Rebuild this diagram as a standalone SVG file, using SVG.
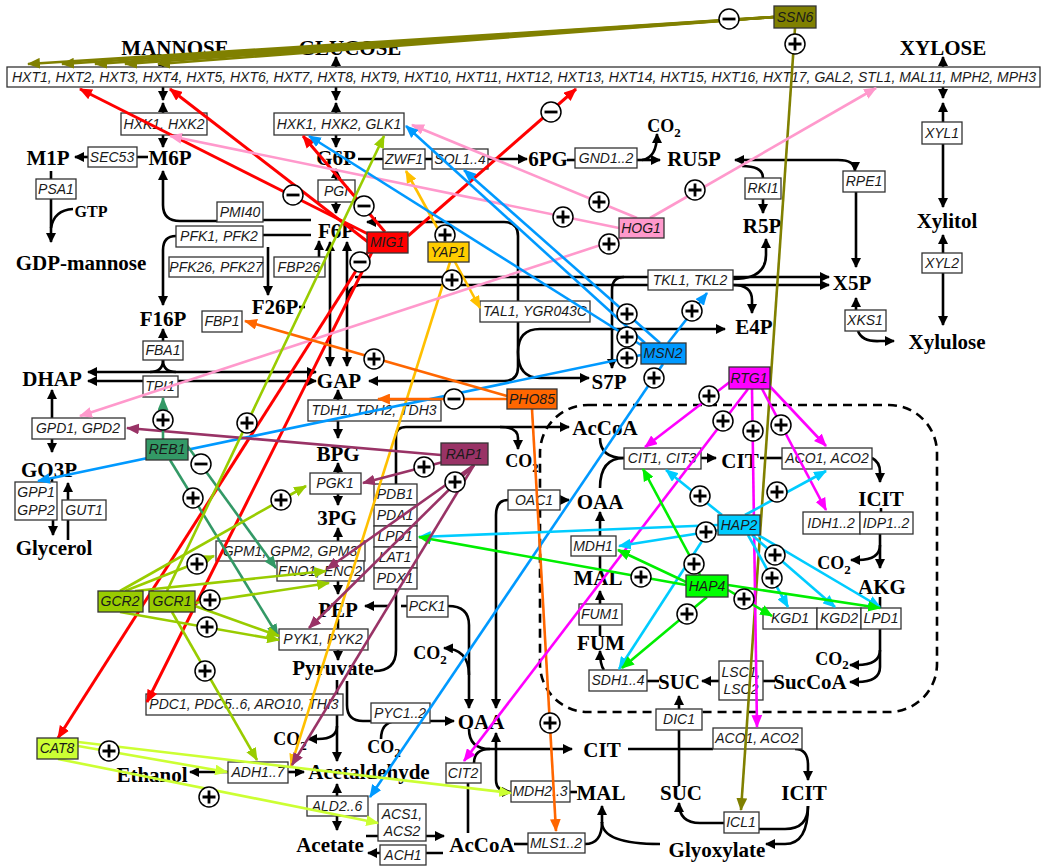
<svg xmlns="http://www.w3.org/2000/svg" width="1045" height="866" viewBox="0 0 1045 866">
<defs>
<style>
.m{font-family:"Liberation Serif","Times New Roman",serif;font-weight:bold;font-size:21px;fill:#000;text-anchor:middle}
.e{font-family:"Liberation Sans",Arial,sans-serif;font-style:italic;font-size:14px;fill:#1a1a1a;text-anchor:middle}
.b{fill:#fff;stroke:#333;stroke-width:1.3}
.k{fill:none;stroke:#000;stroke-width:2.6}
.ka{fill:none;stroke:#000;stroke-width:2.6;marker-end:url(#ak)}
.kb{fill:none;stroke:#000;stroke-width:2.6;marker-start:url(#ak);marker-end:url(#ak)}
.dash{fill:none;stroke:#000;stroke-width:2.6;stroke-dasharray:9 6}
#reg path{fill:none;stroke-width:2.6}
.ol{stroke:#808000;marker-end:url(#a-ol)}
.rd{stroke:#f00;marker-end:url(#a-rd)}
.yl{stroke:#FFC000;marker-end:url(#a-yl)}
.pk{stroke:#FF99CC;marker-end:url(#a-pk)}
.bl{stroke:#0099FF;marker-end:url(#a-bl)}
.or{stroke:#FF6600;marker-end:url(#a-or)}
.mg{stroke:#FF00FF;marker-end:url(#a-mg)}
.cy{stroke:#00CCFF;marker-end:url(#a-cy)}
.gr{stroke:#00EE00;marker-end:url(#a-gr)}
.mr{stroke:#993366;marker-end:url(#a-mr)}
.sg{stroke:#339966;marker-end:url(#a-sg)}
.yg{stroke:#99CC00;marker-end:url(#a-yg)}
.lg{stroke:#CCFF33;marker-end:url(#a-lg)}
.rb{stroke:#333;stroke-width:1.3}
</style>
<marker id="ak" viewBox="0 0 10 10" refX="9" refY="5" markerWidth="10" markerHeight="10" markerUnits="userSpaceOnUse" orient="auto-start-reverse"><path d="M0,0L10,5L0,10z" fill="#000"/></marker>
<marker id="a-ol" viewBox="0 0 12 10" refX="11" refY="5" markerWidth="13" markerHeight="11" markerUnits="userSpaceOnUse" orient="auto"><path d="M0,0L12,5L0,10z" fill="#808000"/></marker>
<marker id="a-rd" viewBox="0 0 12 10" refX="11" refY="5" markerWidth="13" markerHeight="11" markerUnits="userSpaceOnUse" orient="auto"><path d="M0,0L12,5L0,10z" fill="#f00"/></marker>
<marker id="a-yl" viewBox="0 0 12 10" refX="11" refY="5" markerWidth="13" markerHeight="11" markerUnits="userSpaceOnUse" orient="auto"><path d="M0,0L12,5L0,10z" fill="#FFC000"/></marker>
<marker id="a-pk" viewBox="0 0 12 10" refX="11" refY="5" markerWidth="13" markerHeight="11" markerUnits="userSpaceOnUse" orient="auto"><path d="M0,0L12,5L0,10z" fill="#FF99CC"/></marker>
<marker id="a-bl" viewBox="0 0 12 10" refX="11" refY="5" markerWidth="13" markerHeight="11" markerUnits="userSpaceOnUse" orient="auto"><path d="M0,0L12,5L0,10z" fill="#0099FF"/></marker>
<marker id="a-or" viewBox="0 0 12 10" refX="11" refY="5" markerWidth="13" markerHeight="11" markerUnits="userSpaceOnUse" orient="auto"><path d="M0,0L12,5L0,10z" fill="#FF6600"/></marker>
<marker id="a-mg" viewBox="0 0 12 10" refX="11" refY="5" markerWidth="13" markerHeight="11" markerUnits="userSpaceOnUse" orient="auto"><path d="M0,0L12,5L0,10z" fill="#FF00FF"/></marker>
<marker id="a-cy" viewBox="0 0 12 10" refX="11" refY="5" markerWidth="13" markerHeight="11" markerUnits="userSpaceOnUse" orient="auto"><path d="M0,0L12,5L0,10z" fill="#00CCFF"/></marker>
<marker id="a-gr" viewBox="0 0 12 10" refX="11" refY="5" markerWidth="13" markerHeight="11" markerUnits="userSpaceOnUse" orient="auto"><path d="M0,0L12,5L0,10z" fill="#00EE00"/></marker>
<marker id="a-mr" viewBox="0 0 12 10" refX="11" refY="5" markerWidth="13" markerHeight="11" markerUnits="userSpaceOnUse" orient="auto"><path d="M0,0L12,5L0,10z" fill="#993366"/></marker>
<marker id="a-sg" viewBox="0 0 12 10" refX="11" refY="5" markerWidth="13" markerHeight="11" markerUnits="userSpaceOnUse" orient="auto"><path d="M0,0L12,5L0,10z" fill="#339966"/></marker>
<marker id="a-yg" viewBox="0 0 12 10" refX="11" refY="5" markerWidth="13" markerHeight="11" markerUnits="userSpaceOnUse" orient="auto"><path d="M0,0L12,5L0,10z" fill="#99CC00"/></marker>
<marker id="a-lg" viewBox="0 0 12 10" refX="11" refY="5" markerWidth="13" markerHeight="11" markerUnits="userSpaceOnUse" orient="auto"><path d="M0,0L12,5L0,10z" fill="#CCFF33"/></marker>
<g id="plus"><circle r="10" fill="#fff" stroke="#000" stroke-width="1.5"/><path d="M-6.5,0H6.5M0,-6.5V6.5" stroke="#000" stroke-width="2.8"/></g>
<g id="minus"><circle r="10" fill="#fff" stroke="#000" stroke-width="1.5"/><path d="M-6.5,0H6.5" stroke="#000" stroke-width="2.8"/></g>
</defs>
<rect width="1045" height="866" fill="#fff"/>

<!-- reaction connectors -->
<g id="reactions">
<rect x="540" y="405" width="397" height="307" rx="48" class="dash"/>
<path class="ka" d="M163,67V57"/><path class="ka" d="M163,87V100"/><path class="ka" d="M163,113V103"/><path class="ka" d="M163,135V147"/>
<path class="ka" d="M336,67V57"/><path class="ka" d="M336,87V100"/><path class="ka" d="M336,113V103"/><path class="ka" d="M336,135V147"/>
<path class="ka" d="M943,67V57"/><path class="ka" d="M943,87V98"/><path class="ka" d="M943,122V103"/>
<path class="ka" d="M943,144V207"/><path class="ka" d="M943,253V235"/><path class="ka" d="M943,273V325"/>
<path class="k" d="M148,157H137"/><path class="ka" d="M88,157H75"/>
<path class="k" d="M51,171V179"/><path class="ka" d="M51,199V242"/><path class="k" d="M73,209Q54,210 51,228"/>
<path class="ka" d="M217,221H180Q163,221 163,205V171"/>
<path class="k" d="M263,220H311"/><path class="k" d="M263,235H311"/>
<path class="ka" d="M176,236Q163,236 163,250V305"/>
<path class="ka" d="M268,247V295"/>
<path class="ka" d="M319,257V241"/><path class="k" d="M299,307H305"/>
<path class="ka" d="M336,180V169"/><path class="ka" d="M336,202V213"/>
<path class="ka" d="M358,159H527"/>
<path class="k" d="M567,160H575"/><path class="ka" d="M637,160H660"/><path class="ka" d="M642,160Q657,158 657,134"/>
<path class="kb" d="M735,160H838Q855,160 855,171"/><path class="ka" d="M856,192V267"/>
<path class="k" d="M742,166Q763,166 763,178"/><path class="ka" d="M763,199V213"/>
<path class="ka" d="M733,279Q766,279 766,255V239"/><path class="ka" d="M733,285Q752,285 752,300V313"/>
<path class="ka" d="M856,310V298"/><path class="ka" d="M858,331Q862,342 880,341H894"/>
<path class="kb" d="M330,242V366"/><path class="kb" d="M347,242V366"/>
<path class="ka" d="M355,277H829"/><path class="ka" d="M347,302Q347,285 362,285H829"/>
<path class="ka" d="M624,277Q612,277 612,290V368"/>
<path class="kb" d="M369,381H504Q518,381 518,367V236Q518,222 504,222H367"/>
<path class="ka" d="M518,352Q518,329 540,329H725"/><path class="ka" d="M518,352Q518,378 540,378H589"/>
<path class="ka" d="M163,341V329"/>
<path class="k" d="M163,360Q163,372 150,372"/><path class="k" d="M163,360Q163,372 176,372"/>
<path class="kb" d="M88,372H316"/><path class="kb" d="M88,381H316"/>
<path class="ka" d="M52,418V390"/><path class="ka" d="M52,439V452"/>
<path class="k" d="M52,478V482"/><path class="ka" d="M53,520V535"/>
<path class="k" d="M68,540V520"/><path class="ka" d="M68,500V483"/>
<path class="ka" d="M338,400V390"/><path class="ka" d="M338,421V438"/>
<path class="ka" d="M338,473V463"/><path class="ka" d="M338,494V505"/>
<path class="ka" d="M338,541V528"/><path class="ka" d="M338,581V594"/>
<path class="k" d="M338,619V629"/><path class="ka" d="M338,650V660"/>
<path class="k" d="M337,680V694"/><path class="ka" d="M337,715V761"/><path class="ka" d="M337,726Q337,739 318,739H308"/>
<path class="ka" d="M337,796V784"/><path class="ka" d="M337,816V830"/>
<path class="ka" d="M228,772H190"/><path class="ka" d="M288,772H304"/>
<path class="ka" d="M366,836H444"/><path class="ka" d="M443,853H368"/>
<path class="k" d="M514,844H528"/>
<path class="k" d="M585,844Q602,844 602,822"/><path class="k" d="M660,844Q602,844 602,822"/><path class="ka" d="M602,823V806"/>
<path class="ka" d="M389,606H365"/><path class="k" d="M407,606H401"/>
<path class="ka" d="M448,606Q469,606 469,625V708"/><path class="ka" d="M469,675Q469,649 444,648"/>
<path class="ka" d="M374,671Q396,671 396,650V436Q396,427 406,427H569"/><path class="ka" d="M500,427Q518,427 518,438V449"/>
<path class="ka" d="M347,681V705Q347,721 363,721H454"/><path class="k" d="M381,739Q381,723 395,721"/>
<path class="ka" d="M508,500Q496,500 496,515V708"/><path class="ka" d="M560,500H569"/>
<path class="ka" d="M469,729Q469,749 490,749H572"/><path class="k" d="M474,763Q474,749 490,749"/>
<path class="kb" d="M496,733V780Q496,792 511,792"/><path class="k" d="M570,792H577"/>
<path class="k" d="M468,783V833"/>
<path class="k" d="M628,749H713"/>
<path class="k" d="M679,786V730"/><path class="ka" d="M679,709V696"/>
<path class="ka" d="M795,749Q808,749 808,765V780"/>
<path class="k" d="M808,806Q808,829 785,829H759"/><path class="ka" d="M808,806Q808,844 785,844H766"/>
<path class="ka" d="M724,823H700Q679,823 679,803"/>
<path class="k" d="M600,438Q600,458 624,458"/><path class="k" d="M600,488Q600,458 624,458"/>
<path class="ka" d="M701,458H716"/><path class="k" d="M760,458H782"/>
<path class="ka" d="M872,458Q880,462 880,472V482"/>
<path class="k" d="M881,508V512"/>
<path class="ka" d="M880,534V568"/><path class="ka" d="M880,545Q880,560 858,560H851"/>
<path class="k" d="M880,597V608"/>
<path class="ka" d="M880,629V650Q880,665 857,665H850"/><path class="ka" d="M880,650V667Q880,682 857,682H850"/>
<path class="k" d="M775,681H763"/><path class="ka" d="M719,681H702"/>
<path class="k" d="M659,681H647"/>
<path class="ka" d="M604,670Q600,665 600,651"/>
<path class="k" d="M600,636V625"/><path class="ka" d="M600,604V591"/>
<path class="k" d="M600,569V556"/><path class="ka" d="M600,536V512"/>
</g>

<!-- metabolites -->
<g id="metabolites">
<g id="m-mannose"><text class="m" x="175" y="55">MANNOSE</text></g>
<g id="m-glucose"><text class="m" x="350" y="55">GLUCOSE</text></g>
<g id="m-xylose"><text class="m" x="943" y="55">XYLOSE</text></g>
<g id="m-m1p"><text class="m" x="48" y="165">M1P</text></g>
<g id="m-m6p"><text class="m" x="170" y="165">M6P</text></g>
<g id="m-g6p"><text class="m" x="336" y="165">G6P</text></g>
<g id="m-6pg"><text class="m" x="548" y="166">6PG</text></g>
<g id="m-ru5p"><text class="m" x="694" y="166">RU5P</text></g>
<g id="m-r5p"><text class="m" x="762" y="233">R5P</text></g>
<g id="m-f6p"><text class="m" x="336" y="238">F6P</text></g>
<g id="m-f26p"><text class="m" x="275" y="314">F26P</text></g>
<g id="m-f16p"><text class="m" x="163" y="326">F16P</text></g>
<g id="m-dhap"><text class="m" x="52" y="386">DHAP</text></g>
<g id="m-gap"><text class="m" x="339" y="388">GAP</text></g>
<g id="m-x5p"><text class="m" x="852" y="290">X5P</text></g>
<g id="m-xylitol"><text class="m" x="947" y="228">Xylitol</text></g>
<g id="m-e4p"><text class="m" x="754" y="334">E4P</text></g>
<g id="m-xylulose"><text class="m" x="947" y="349">Xylulose</text></g>
<g id="m-s7p"><text class="m" x="609" y="389">S7P</text></g>
<g id="m-go3p"><text class="m" x="49" y="477">GO3P</text></g>
<g id="m-glycerol"><text class="m" x="54" y="555">Glycerol</text></g>
<g id="m-gdpman"><text class="m" x="81" y="270">GDP-mannose</text></g>
<g id="m-gtp"><text class="m" x="91" y="217" style="font-size:16px">GTP</text></g>
<g id="m-bpg"><text class="m" x="338" y="461">BPG</text></g>
<g id="m-3pg"><text class="m" x="337" y="525">3PG</text></g>
<g id="m-pep"><text class="m" x="338" y="617">PEP</text></g>
<g id="m-pyr"><text class="m" x="333" y="675">Pyruvate</text></g>
<g id="m-acald"><text class="m" x="369" y="779">Acetaldehyde</text></g>
<g id="m-etoh"><text class="m" x="152" y="782">Ethanol</text></g>
<g id="m-acetate"><text class="m" x="330" y="852">Acetate</text></g>
<g id="m-accoa-c"><text class="m" x="482" y="852">AcCoA</text></g>
<g id="m-oaa-c"><text class="m" x="481" y="729">OAA</text></g>
<g id="m-cit-c"><text class="m" x="602" y="757">CIT</text></g>
<g id="m-mal-c"><text class="m" x="601" y="800">MAL</text></g>
<g id="m-suc-c"><text class="m" x="681" y="800">SUC</text></g>
<g id="m-icit-c"><text class="m" x="804" y="800">ICIT</text></g>
<g id="m-glyox"><text class="m" x="717" y="857">Glyoxylate</text></g>
<g id="m-accoa-m"><text class="m" x="605" y="435">AcCoA</text></g>
<g id="m-cit-m"><text class="m" x="740" y="468">CIT</text></g>
<g id="m-oaa-m"><text class="m" x="600" y="509">OAA</text></g>
<g id="m-icit-m"><text class="m" x="881" y="506">ICIT</text></g>
<g id="m-akg"><text class="m" x="882" y="594">AKG</text></g>
<g id="m-mal-m"><text class="m" x="598" y="585">MAL</text></g>
<g id="m-fum"><text class="m" x="601" y="650">FUM</text></g>
<g id="m-suc-m"><text class="m" x="679" y="689">SUC</text></g>
<g id="m-succoa"><text class="m" x="810" y="689">SucCoA</text></g>
<g id="m-co2-1"><text class="m" x="664" y="132" style="font-size:18px">CO<tspan dy="5" style="font-size:13px">2</tspan></text></g>
<g id="m-co2-2"><text class="m" x="522" y="467" style="font-size:18px">CO<tspan dy="5" style="font-size:13px">2</tspan></text></g>
<g id="m-co2-3"><text class="m" x="430" y="659" style="font-size:18px">CO<tspan dy="5" style="font-size:13px">2</tspan></text></g>
<g id="m-co2-4"><text class="m" x="290" y="745" style="font-size:18px">CO<tspan dy="5" style="font-size:13px">2</tspan></text></g>
<g id="m-co2-5"><text class="m" x="384" y="753" style="font-size:18px">CO<tspan dy="4" style="font-size:13px">2</tspan></text></g>
<g id="m-co2-6"><text class="m" x="834" y="569" style="font-size:18px">CO<tspan dy="5" style="font-size:13px">2</tspan></text></g>
<g id="m-co2-7"><text class="m" x="832" y="665" style="font-size:18px">CO<tspan dy="4" style="font-size:13px">2</tspan></text></g>
</g>

<!-- enzymes -->
<g id="enzymes">
<g id="e-hxt"><rect class="b" x="7" y="67" width="1033" height="20"/><text class="e" x="12" y="82" style="text-anchor:start" textLength="1024">HXT1, HXT2, HXT3, HXT4, HXT5, HXT6, HXT7, HXT8, HXT9, HXT10, HXT11, HXT12, HXT13, HXT14, HXT15, HXT16, HXT17, GAL2, STL1, MAL11, MPH2, MPH3</text></g>
<g id="e-hxk12"><rect class="b" x="121" y="113" width="86" height="22"/><text class="e" x="164" y="129">HXK1, HXK2</text></g>
<g id="e-hxkglk"><rect class="b" x="274" y="113" width="130" height="22"/><text class="e" x="339" y="129">HXK1, HXK2, GLK1</text></g>
<g id="e-sec53"><rect class="b" x="88" y="147" width="49" height="20"/><text class="e" x="112" y="162">SEC53</text></g>
<g id="e-psa1"><rect class="b" x="36" y="179" width="40" height="20"/><text class="e" x="56" y="194">PSA1</text></g>
<g id="e-pmi40"><rect class="b" x="217" y="202" width="46" height="20"/><text class="e" x="240" y="217">PMI40</text></g>
<g id="e-pfk12"><rect class="b" x="176" y="226" width="87" height="21"/><text class="e" x="219" y="241">PFK1, PFK2</text></g>
<g id="e-pfk2627"><rect class="b" x="169" y="257" width="94" height="20"/><text class="e" x="216" y="272">PFK26, PFK27</text></g>
<g id="e-fbp26"><rect class="b" x="274" y="257" width="51" height="20"/><text class="e" x="299" y="272">FBP26</text></g>
<g id="e-pgi"><rect class="b" x="318" y="180" width="37" height="22"/><text class="e" x="336" y="196">PGI</text></g>
<g id="e-zwf1"><rect class="b" x="383" y="149" width="42" height="20"/><text class="e" x="404" y="164">ZWF1</text></g>
<g id="e-sol"><rect class="b" x="432" y="149" width="56" height="20"/><text class="e" x="460" y="164">SOL1..4</text></g>
<g id="e-gnd"><rect class="b" x="575" y="148" width="62" height="20"/><text class="e" x="606" y="163">GND1..2</text></g>
<g id="e-rki1"><rect class="b" x="745" y="178" width="36" height="21"/><text class="e" x="763" y="193">RKI1</text></g>
<g id="e-rpe1"><rect class="b" x="843" y="171" width="42" height="21"/><text class="e" x="864" y="186">RPE1</text></g>
<g id="e-xyl1"><rect class="b" x="922" y="122" width="40" height="22"/><text class="e" x="942" y="138">XYL1</text></g>
<g id="e-xyl2"><rect class="b" x="922" y="253" width="40" height="20"/><text class="e" x="942" y="268">XYL2</text></g>
<g id="e-tkl"><rect class="b" x="648" y="270" width="85" height="20"/><text class="e" x="690" y="285">TKL1, TKL2</text></g>
<g id="e-xks1"><rect class="b" x="845" y="310" width="41" height="21"/><text class="e" x="865" y="325">XKS1</text></g>
<g id="e-tal"><rect class="b" x="480" y="301" width="110" height="21"/><text class="e" x="535" y="316">TAL1, YGR043C</text></g>
<g id="e-fbp1"><rect class="b" x="202" y="311" width="40" height="21"/><text class="e" x="222" y="326">FBP1</text></g>
<g id="e-fba1"><rect class="b" x="143" y="341" width="40" height="19"/><text class="e" x="163" y="355">FBA1</text></g>
<g id="e-tpi1"><rect class="b" x="143" y="376" width="35" height="21"/><text class="e" x="160" y="391">TPI1</text></g>
<g id="e-gpd"><rect class="b" x="32" y="418" width="93" height="21"/><text class="e" x="78" y="433">GPD1, GPD2</text></g>
<g id="e-gpp"><rect class="b" x="15" y="482" width="42" height="38"/><text class="e" x="36" y="497">GPP1</text><text class="e" x="36" y="515">GPP2</text></g>
<g id="e-gut1"><rect class="b" x="62" y="500" width="44" height="20"/><text class="e" x="84" y="515">GUT1</text></g>
<g id="e-tdh"><rect class="b" x="308" y="400" width="133" height="21"/><text class="e" x="374" y="415">TDH1, TDH2, TDH3</text></g>
<g id="e-pgk1"><rect class="b" x="310" y="473" width="51" height="21"/><text class="e" x="335" y="488">PGK1</text></g>
<g id="e-gpm"><rect class="b" x="216" y="541" width="149" height="20"/><text class="e" x="290" y="556">GPM1, GPM2, GPM3</text></g>
<g id="e-eno"><rect class="b" x="277" y="561" width="87" height="20"/><text class="e" x="320" y="576">ENO1, ENO2</text></g>
<g id="e-pdh">
<rect class="b" x="374" y="484" width="43" height="21"/><text class="e" x="395" y="499">PDB1</text>
<rect class="b" x="374" y="505" width="43" height="21"/><text class="e" x="395" y="520">PDA1</text>
<rect class="b" x="374" y="526" width="43" height="21"/><text class="e" x="395" y="541">LPD1</text>
<rect class="b" x="374" y="547" width="43" height="21"/><text class="e" x="395" y="562">LAT1</text>
<rect class="b" x="374" y="568" width="43" height="21"/><text class="e" x="395" y="583">PDX1</text>
</g>
<g id="e-pck1"><rect class="b" x="407" y="596" width="41" height="21"/><text class="e" x="427" y="611">PCK1</text></g>
<g id="e-pyk"><rect class="b" x="279" y="629" width="89" height="21"/><text class="e" x="323" y="644">PYK1, PYK2</text></g>
<g id="e-pdc"><rect class="b" x="146" y="694" width="197" height="21"/><text class="e" x="244" y="709">PDC1, PDC5..6, ARO10, THI3</text></g>
<g id="e-pyc"><rect class="b" x="371" y="703" width="59" height="20"/><text class="e" x="400" y="718">PYC1..2</text></g>
<g id="e-adh"><rect class="b" x="228" y="762" width="60" height="21"/><text class="e" x="258" y="777">ADH1..7</text></g>
<g id="e-ald"><rect class="b" x="307" y="796" width="61" height="20"/><text class="e" x="337" y="811">ALD2..6</text></g>
<g id="e-acs"><rect class="b" x="378" y="804" width="48" height="37"/><text class="e" x="402" y="819">ACS1,</text><text class="e" x="402" y="836">ACS2</text></g>
<g id="e-ach1"><rect class="b" x="380" y="845" width="46" height="20"/><text class="e" x="403" y="860">ACH1</text></g>
<g id="e-cit2"><rect class="b" x="446" y="763" width="35" height="20"/><text class="e" x="463" y="778">CIT2</text></g>
<g id="e-mdh23"><rect class="b" x="511" y="781" width="59" height="21"/><text class="e" x="540" y="796">MDH2..3</text></g>
<g id="e-mls"><rect class="b" x="528" y="833" width="57" height="20"/><text class="e" x="556" y="848">MLS1..2</text></g>
<g id="e-icl1"><rect class="b" x="724" y="812" width="35" height="21"/><text class="e" x="741" y="827">ICL1</text></g>
<g id="e-aco-c"><rect class="b" x="713" y="728" width="89" height="21"/><text class="e" x="757" y="743">ACO1, ACO2</text></g>
<g id="e-dic1"><rect class="b" x="656" y="709" width="46" height="21"/><text class="e" x="679" y="724">DIC1</text></g>
<g id="e-sdh"><rect class="b" x="589" y="670" width="58" height="21"/><text class="e" x="618" y="685">SDH1..4</text></g>
<g id="e-fum1"><rect class="b" x="579" y="604" width="43" height="21"/><text class="e" x="600" y="619">FUM1</text></g>
<g id="e-lsc"><rect class="b" x="719" y="661" width="44" height="39"/><text class="e" x="741" y="677">LSC1,</text><text class="e" x="741" y="694">LSC2</text></g>
<g id="e-kgd1"><rect class="b" x="763" y="608" width="54" height="21"/><text class="e" x="790" y="623">KGD1</text></g>
<g id="e-kgd2"><rect class="b" x="817" y="608" width="44" height="21"/><text class="e" x="839" y="623">KGD2</text></g>
<g id="e-lpd1m"><rect class="b" x="861" y="608" width="40" height="21"/><text class="e" x="881" y="623">LPD1</text></g>
<g id="e-mdh1"><rect class="b" x="571" y="536" width="45" height="20"/><text class="e" x="593" y="551">MDH1</text></g>
<g id="e-oac1"><rect class="b" x="508" y="490" width="52" height="20"/><text class="e" x="534" y="505">OAC1</text></g>
<g id="e-cit13"><rect class="b" x="624" y="448" width="77" height="21"/><text class="e" x="662" y="463">CIT1, CIT3</text></g>
<g id="e-aco-m"><rect class="b" x="782" y="448" width="90" height="21"/><text class="e" x="827" y="463">ACO1, ACO2</text></g>
<g id="e-idh"><rect class="b" x="803" y="512" width="57" height="22"/><text class="e" x="831" y="528">IDH1..2</text></g>
<g id="e-idp"><rect class="b" x="860" y="512" width="53" height="22"/><text class="e" x="886" y="528">IDP1..2</text></g>
</g>

<!-- regulation connectors -->
<g id="reg">
<path class="ol" d="M774,17L28,64"/><path class="ol" d="M774,17L62,64"/><path class="ol" d="M774,17L95,64"/><path class="ol" d="M774,17L125,64"/><path class="ol" d="M774,17L158,64"/>
<path class="ol" d="M795,28L741,810"/>
<path class="rd" style="stroke-width:3" d="M368,234L80,89"/>
<path class="rd" style="stroke-width:3" d="M368,242L170,89"/>
<path class="rd" style="stroke-width:3" d="M385,232L303,136"/>
<path class="rd" style="stroke-width:3" d="M408,236L576,89"/>
<path class="rd" style="stroke-width:3" d="M368,252L58,738"/>
<path class="rd" style="stroke-width:3" d="M372,252L147,702"/>
<path class="yl" d="M445,242L406,171"/>
<path class="yl" d="M455,262L480,308"/>
<path class="yl" d="M450,262L291,766"/>
<path class="pk" d="M619,228L170,136"/>
<path class="pk" d="M637,218L412,125"/>
<path class="pk" d="M622,238L80,416"/>
<path class="pk" d="M650,218L876,88"/>
<path class="bl" d="M641,345L309,136"/>
<path class="bl" d="M645,343L406,126"/>
<path class="bl" d="M660,343L464,170"/>
<path class="bl" d="M641,355L38,481"/>
<path class="bl" d="M668,343L707,293"/>
<path class="bl" d="M663,364L370,797"/>
<path class="or" d="M507,396L245,321"/>
<path class="or" d="M507,399L378,399"/>
<path class="or" d="M532,409L556,831"/>
<path class="mg" d="M735,378L645,447"/>
<path class="mg" d="M748,389L464,761"/>
<path class="mg" d="M752,389L757,727"/>
<path class="mg" d="M762,378L826,446"/>
<path class="mg" d="M760,385L826,510"/>
<path class="cy" d="M722,515L666,470"/>
<path class="cy" d="M745,515L826,471"/>
<path class="cy" d="M718,525L419,537"/>
<path class="cy" d="M720,530L619,546"/>
<path class="cy" d="M706,535L619,669"/>
<path class="cy" d="M748,535L788,607"/>
<path class="cy" d="M752,535L835,607"/>
<path class="cy" d="M758,535L880,607"/>
<path class="gr" d="M700,575L643,469"/>
<path class="gr" d="M686,585L419,537"/>
<path class="gr" d="M686,582L618,550"/>
<path class="gr" d="M707,597L622,668"/>
<path class="gr" d="M728,590L772,616"/>
<path class="gr" d="M728,585L880,608"/>
<path class="mr" d="M441,455L127,428"/>
<path class="mr" d="M443,462L363,483"/>
<path class="mr" d="M474,465L327,569"/>
<path class="mr" d="M474,465L309,628"/>
<path class="mr" d="M474,465L292,765"/>
<path class="sg" d="M163,439L163,398"/>
<path class="sg" d="M186,444L276,568"/>
<path class="sg" d="M170,460L278,636"/>
<path class="yg" d="M167,591L384,136"/>
<path class="yg" d="M120,591L306,486"/>
<path class="yg" d="M125,591L214,556"/>
<path class="yg" d="M135,591L326,571"/>
<path class="yg" d="M195,603L329,583"/>
<path class="yg" d="M120,612L279,640"/>
<path class="yg" d="M195,606L279,636"/>
<path class="yg" d="M172,612L257,760"/>
<path class="lg" d="M78,746L227,772"/>
<path class="lg" d="M78,742L511,793"/>
<path class="lg" d="M58,759L378,823"/>
</g>

<!-- signs -->
<g id="signs">
<use href="#minus" x="729" y="19"/><use href="#plus" x="795" y="44"/>
<use href="#minus" x="551" y="112"/><use href="#minus" x="293" y="195"/><use href="#minus" x="364" y="206"/><use href="#minus" x="360" y="262"/>
<use href="#plus" x="599" y="202"/><use href="#plus" x="563" y="217"/><use href="#plus" x="609" y="244"/><use href="#plus" x="695" y="190"/>
<use href="#plus" x="445" y="235"/><use href="#plus" x="452" y="280"/>
<use href="#plus" x="627" y="314"/><use href="#plus" x="627" y="337"/><use href="#plus" x="627" y="358"/><use href="#plus" x="692" y="311"/><use href="#plus" x="654" y="378"/>
<use href="#plus" x="374" y="359"/><use href="#minus" x="454" y="399"/><use href="#plus" x="550" y="723"/>
<use href="#plus" x="709" y="396"/><use href="#plus" x="723" y="421"/><use href="#plus" x="753" y="431"/><use href="#plus" x="781" y="425"/>
<use href="#plus" x="700" y="496"/><use href="#plus" x="777" y="492"/><use href="#plus" x="706" y="532"/><use href="#plus" x="775" y="555"/><use href="#plus" x="772" y="578"/>
<use href="#plus" x="694" y="564"/><use href="#plus" x="641" y="577"/><use href="#plus" x="744" y="599"/><use href="#plus" x="687" y="614"/>
<use href="#plus" x="424" y="467"/><use href="#plus" x="455" y="482"/>
<use href="#plus" x="163" y="420"/><use href="#minus" x="201" y="464"/><use href="#plus" x="193" y="498"/>
<use href="#plus" x="247" y="423"/><use href="#plus" x="281" y="500"/><use href="#plus" x="197" y="564"/><use href="#plus" x="210" y="600"/><use href="#plus" x="207" y="627"/><use href="#plus" x="205" y="671"/>
<use href="#plus" x="109" y="751"/><use href="#plus" x="209" y="797"/>
</g>

<!-- regulators -->
<g id="regulators">
<g id="r-ssn6"><rect class="rb" x="774" y="6" width="42" height="22" fill="#808000"/><text class="e" x="795" y="22">SSN6</text></g>
<g id="r-mig1"><rect class="rb" x="367" y="232" width="41" height="21" fill="#FF0000"/><text class="e" x="387" y="247">MIG1</text></g>
<g id="r-yap1"><rect class="rb" x="428" y="242" width="41" height="20" fill="#FFCC00"/><text class="e" x="448" y="257">YAP1</text></g>
<g id="r-hog1"><rect class="rb" x="619" y="218" width="45" height="20" fill="#FF99CC"/><text class="e" x="641" y="233">HOG1</text></g>
<g id="r-msn2"><rect class="rb" x="641" y="343" width="45" height="21" fill="#0099FF"/><text class="e" x="663" y="358">MSN2</text></g>
<g id="r-pho85"><rect class="rb" x="507" y="389" width="50" height="20" fill="#FF6600"/><text class="e" x="532" y="404">PHO85</text></g>
<g id="r-rtg1"><rect class="rb" x="729" y="367" width="41" height="22" fill="#FF00FF"/><text class="e" x="749" y="383">RTG1</text></g>
<g id="r-rap1"><rect class="rb" x="441" y="443" width="47" height="22" fill="#993366"/><text class="e" x="464" y="459">RAP1</text></g>
<g id="r-reb1"><rect class="rb" x="146" y="439" width="42" height="21" fill="#339966"/><text class="e" x="167" y="454">REB1</text></g>
<g id="r-hap2"><rect class="rb" x="718" y="515" width="42" height="20" fill="#00CCFF"/><text class="e" x="739" y="530">HAP2</text></g>
<g id="r-hap4"><rect class="rb" x="686" y="575" width="42" height="22" fill="#00FF00"/><text class="e" x="707" y="591">HAP4</text></g>
<g id="r-gcr2"><rect class="rb" x="98" y="591" width="45" height="21" fill="#99CC00"/><text class="e" x="120" y="606">GCR2</text></g>
<g id="r-gcr1"><rect class="rb" x="149" y="591" width="46" height="21" fill="#99CC00"/><text class="e" x="172" y="606">GCR1</text></g>
<g id="r-cat8"><rect class="rb" x="37" y="738" width="41" height="21" fill="#CCFF33"/><text class="e" x="57" y="753">CAT8</text></g>
</g>
</svg>
